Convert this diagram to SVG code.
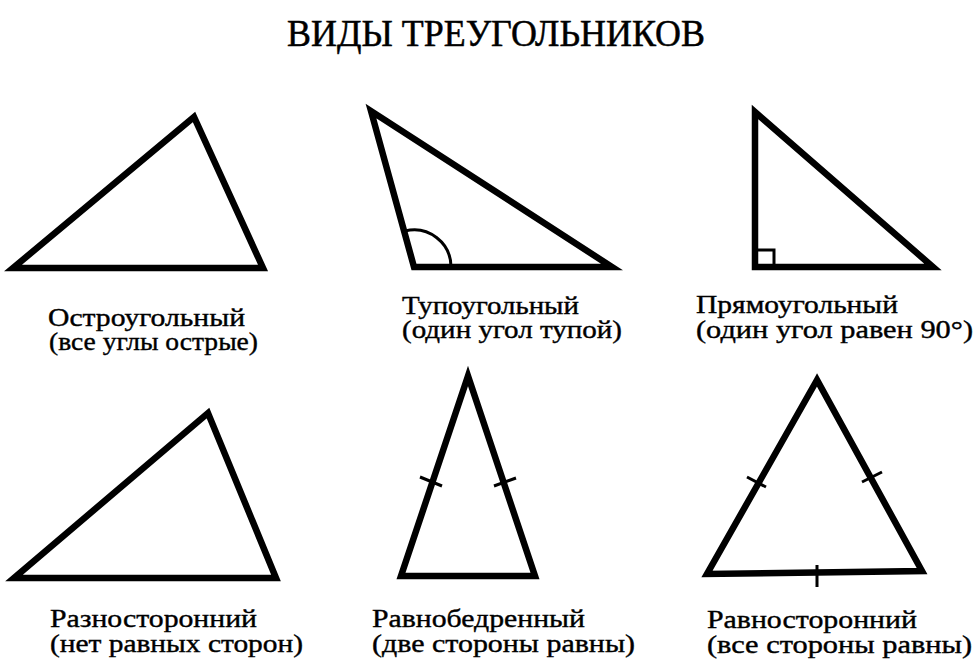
<svg xmlns="http://www.w3.org/2000/svg" width="980" height="669" viewBox="0 0 980 669">
<style>
.tri{fill:none;stroke:#000;stroke-width:6.5;stroke-linejoin:miter;stroke-miterlimit:10}
.thin{fill:none;stroke:#000;stroke-width:3}
.lbl{font-family:"Liberation Serif","Times New Roman",serif;font-size:26px;fill:#000;stroke:#000;stroke-width:0.4}
.ttl{font-family:"Liberation Serif","Times New Roman",serif;font-size:37px;fill:#000;stroke:#000;stroke-width:0.5}
</style>
<rect width="980" height="669" fill="#fff"/>
<text class="ttl" x="287" y="46" textLength="418" lengthAdjust="spacingAndGlyphs">ВИДЫ ТРЕУГОЛЬНИКОВ</text>
<g id="acute">
<polygon class="tri" points="13,268 194,117 263,268"/>
<text class="lbl" x="48" y="326" textLength="197" lengthAdjust="spacingAndGlyphs">Остроугольный</text>
<text class="lbl" x="49" y="350" textLength="209" lengthAdjust="spacingAndGlyphs">(все углы острые)</text>
</g>
<g id="obtuse">
<polygon class="tri" points="371,111 414,267 612,267"/>
<path class="thin" d="M451,267 A37,37 0 0 0 405,231"/>
<text class="lbl" x="402" y="314" textLength="177" lengthAdjust="spacingAndGlyphs">Тупоугольный</text>
<text class="lbl" x="402" y="338" textLength="220" lengthAdjust="spacingAndGlyphs">(один угол тупой)</text>
</g>
<g id="right">
<polygon class="tri" points="755,112 755,267 933,267"/>
<path class="thin" d="M755,250 H774 V267"/>
<text class="lbl" x="696" y="313" textLength="202" lengthAdjust="spacingAndGlyphs">Прямоугольный</text>
<text class="lbl" x="696" y="338" textLength="277" lengthAdjust="spacingAndGlyphs">(один угол равен 90°)</text>
</g>
<g id="scalene">
<polygon class="tri" points="14,578 208,413 276,578"/>
<text class="lbl" x="50" y="627" textLength="207" lengthAdjust="spacingAndGlyphs">Разносторонний</text>
<text class="lbl" x="50" y="652" textLength="253" lengthAdjust="spacingAndGlyphs">(нет равных сторон)</text>
</g>
<g id="isosceles">
<polygon class="tri" points="468,376 401,576 535,576"/>
<path class="thin" d="M420,477 L442,486 M494,486 L516,478"/>
<text class="lbl" x="372" y="627" textLength="213" lengthAdjust="spacingAndGlyphs">Равнобедренный</text>
<text class="lbl" x="372" y="652" textLength="263" lengthAdjust="spacingAndGlyphs">(две стороны равны)</text>
</g>
<g id="equilateral">
<polygon class="tri" points="817,380 707,574 922,571"/>
<path class="thin" d="M747,477 L766,487 M862,482 L882,472 M817,565 V587"/>
<text class="lbl" x="707" y="628" textLength="210" lengthAdjust="spacingAndGlyphs">Равносторонний</text>
<text class="lbl" x="707" y="653" textLength="265" lengthAdjust="spacingAndGlyphs">(все стороны равны)</text>
</g>
<g id="connectors"/>
</svg>
